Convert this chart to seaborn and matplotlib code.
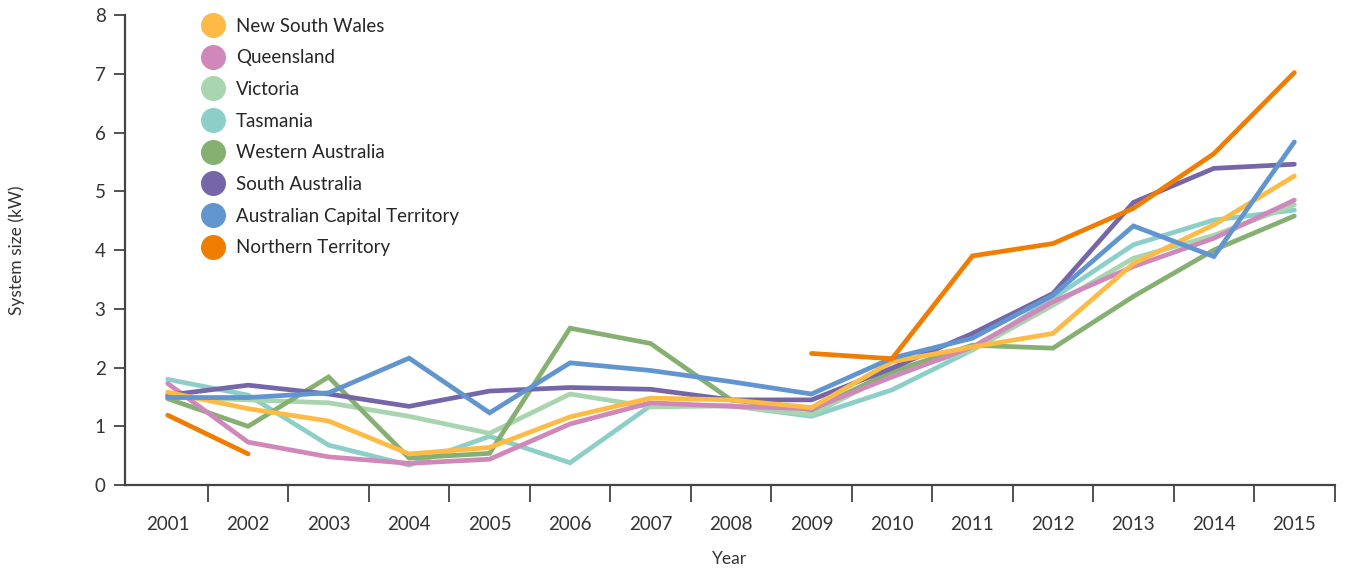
import numpy as np
import pandas as pd
import seaborn as sns
from matplotlib import pyplot as plt
from matplotlib.lines import Line2D

years = list(range(2001, 2016))

nsw = [1.58, 1.30, 1.09, 0.53, 0.64, 1.16, 1.48, 1.45, 1.32, 2.10, 2.35, 2.58, 3.77, 4.43, 5.26]
qld = [1.73, 0.73, 0.48, 0.37, 0.44, 1.04, 1.40, 1.34, 1.30, 1.84, 2.35, 3.12, 3.72, 4.20, 4.85]
vic = [1.50, 1.45, 1.40, 1.17, 0.88, 1.55, 1.33, 1.35, 1.20, 1.90, 2.30, 3.06, 3.86, 4.25, 4.77]
tas = [1.80, 1.53, 0.68, 0.34, 0.83, 0.38, 1.35, 1.35, 1.17, 1.62, 2.30, 3.18, 4.09, 4.51, 4.68]
wa = [1.47, 1.00, 1.84, 0.46, 0.54, 2.67, 2.41, 1.45, 1.28, 1.93, 2.38, 2.33, 3.21, 4.00, 4.58]
sa = [1.53, 1.70, 1.55, 1.34, 1.60, 1.66, 1.63, 1.45, 1.45, 1.99, 2.58, 3.26, 4.81, 5.39, 5.46]
act = [1.49, 1.49, 1.57, 2.16, 1.23, 2.08, 1.95, 1.76, 1.55, 2.16, 2.50, 3.23, 4.41, 3.89, 5.84]
nt = [1.19, 0.53, np.nan, np.nan, np.nan, np.nan, np.nan, np.nan, 2.24, 2.15, 3.90, 4.11, 4.71, 5.64, 7.02]

states = ['New South Wales', 'Queensland', 'Victoria', 'Tasmania',
          'Western Australia', 'South Australia', 'Australian Capital Territory',
          'Northern Territory']
values = [nsw, qld, vic, tas, wa, sa, act, nt]
colors = ['#FDBB45', '#CF88B9', '#A8D5B0', '#8CCFC9', '#86AF72', '#7565A9', '#6195D0', '#F07D00']
draw_order = ['Tasmania', 'Victoria', 'Western Australia', 'Queensland',
              'South Australia', 'New South Wales', 'Australian Capital Territory',
              'Northern Territory']

# long table, with a segment id so gaps (NaN) break the line
rows = []
for st, vals in zip(states, values):
    seg = 0
    for yr, v in zip(years, vals):
        if np.isnan(v):
            seg += 1
            continue
        rows.append({'state': st, 'year': yr, 'size': v, 'seg': seg})
df = pd.DataFrame(rows)
palette = dict(zip(states, colors))

sns.set_style('white')
plt.rcParams['font.family'] = ['Lato', 'DejaVu Sans']

fig = plt.figure(figsize=(13.47, 5.68), dpi=100)
ax = fig.add_axes([0.0928, 0.146, 0.898, 0.8276])

for st in draw_order:
    sub = df[df['state'] == st]
    sns.lineplot(data=sub, x='year', y='size', units='seg', estimator=None,
                 color=palette[st], linewidth=3.4, ax=ax, legend=False,
                 solid_capstyle='round', solid_joinstyle='miter')

ax.set_xlim(2000.47, 2015.5)
ax.set_ylim(0, 8)

ax.set_xticks(years)
ax.set_xticklabels([str(y) for y in years])
ax.set_xticks(np.arange(2001.5, 2016, 1.0), minor=True)
ax.tick_params(axis='x', which='major', bottom=True, length=0, pad=22,
               labelsize=13.5, labelcolor='#333333')
ax.tick_params(axis='x', which='minor', bottom=True, length=12, width=1.3,
               color='#444444', direction='out')
ax.set_yticks(range(0, 9))
ax.tick_params(axis='y', left=True, length=8, width=1.3, color='#444444', direction='out',
               labelsize=13.5, labelcolor='#333333', pad=6)

for side in ['top', 'right']:
    ax.spines[side].set_visible(False)
for side in ['left', 'bottom']:
    ax.spines[side].set_color('#444444')
    ax.spines[side].set_linewidth(1.6)

ax.set_xlabel('Year', fontsize=12.5, color='#333333', labelpad=13)
ax.set_ylabel('System size (kW)', fontsize=12.5, color='#333333')
ax.yaxis.set_label_coords(-0.083, 0.5)

handles = [Line2D([], [], marker='o', linestyle='none', markersize=17,
                  markerfacecolor=c, markeredgecolor=c) for c in colors]
ax.legend(handles, states, loc='upper left', bbox_to_anchor=(0.057, 1.01),
          frameon=False, fontsize=13.5, handletextpad=0.65, labelspacing=0.78,
          borderaxespad=0, handlelength=1.2)

fig.savefig('out.png', dpi=100)
